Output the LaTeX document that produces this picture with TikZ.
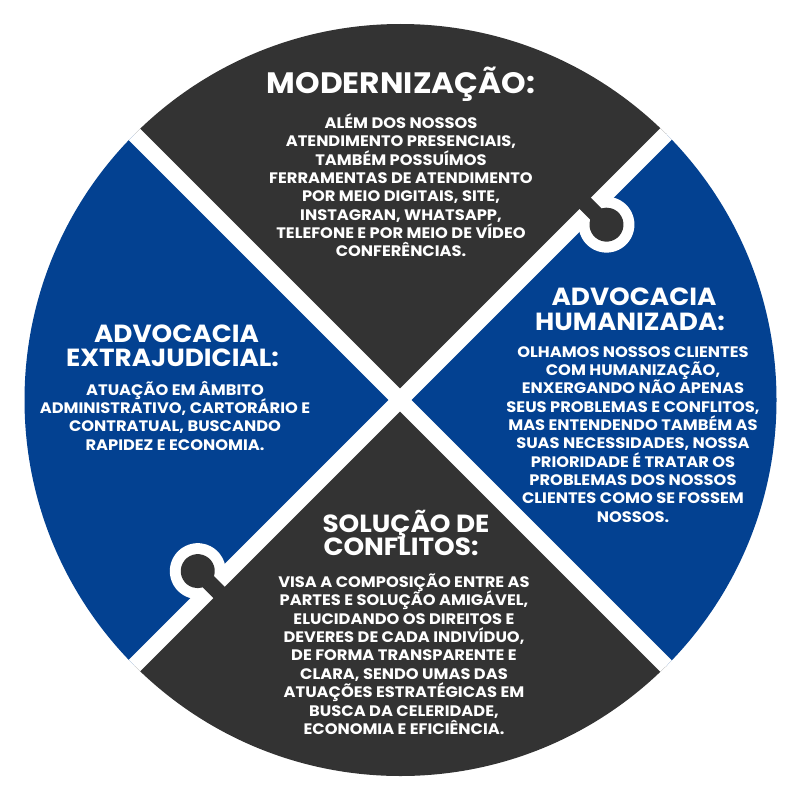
\documentclass[tikz,border=0pt]{standalone}
\usepackage{fontspec}
\setmainfont{Poppins}
\newfontfamily\titlefont{Poppins}[FakeStretch=1.06]
\newfontfamily\bodyfont{Poppins}[FakeStretch=1.07]
\definecolor{dk}{RGB}{51,51,51}
\definecolor{bl}{RGB}{3,65,145}
\tikzset{
  ttl/.style={text=white, font=\titlefont\bfseries\fontsize{24.8}{25}\selectfont, inner sep=0pt, anchor=base},
  ttlbig/.style={ttl, font=\titlefont\bfseries\fontsize{29.5}{30}\selectfont},
  bod/.style={text=white, font=\bodyfont\bfseries\fontsize{15.2}{18}\selectfont, inner sep=0pt, anchor=base},
  gap/.style={white, line width=16pt},
  knobline/.style={white, line width=22pt, line join=round},
}
\newcommand{\puzzleknob}[3]{%
  \begin{scope}[shift={(400,400)}, rotate=#1]
    \begin{scope}
      \clip (#2-70,0) rectangle (#2+70,90);
      \draw[knobline] (#2-8,-12) -- (#2-8,#3-15) arc[start angle=241.93, end angle=-61.93, radius=17] -- (#2+8,-12) -- cycle;
    \end{scope}
    \fill[dk] (#2-8,-12) -- (#2-8,#3-15) arc[start angle=241.93, end angle=-61.93, radius=17] -- (#2+8,-12) -- cycle;
  \end{scope}}
\begin{document}
\begin{tikzpicture}[x=1pt,y=-1pt]
\useasboundingbox (0,0) rectangle (800,800);
\fill[white] (0,0) rectangle (800,800);
\begin{scope}
  \clip (400.5,400) circle[radius=376];
  \fill[dk] (400,400) -- (0,0) -- (800,0) -- cycle;
  \fill[bl] (400,400) -- (800,0) -- (800,800) -- cycle;
  \fill[dk] (400,400) -- (800,800) -- (0,800) -- cycle;
  \fill[bl] (400,400) -- (0,800) -- (0,0) -- cycle;
  \draw[gap] (0,0) -- (800,800);
  \draw[gap] (800,0) -- (0,800);
  \puzzleknob{45}{270}{22}
  \puzzleknob{225}{264}{22}
\end{scope}
% top
\node[ttlbig] (t1) at (401,93) {MODERNIZAÇÃO:};
\foreach \t [count=\i] in {{ALÉM DOS NOSSOS},{ATENDIMENTO PRESENCIAIS,},{TAMBÉM POSSUÍMOS},{FERRAMENTAS DE ATENDIMENTO},{POR MEIO DIGITAIS, SITE,},{INSTAGRAN, WHATSAPP,},{TELEFONE E POR MEIO DE VÍDEO},{CONFERÊNCIAS.}}
  \node[bod] (tb\i) at (401,{128.6+18.33*(\i-1)}) {\t};
% right
\node[ttl] (r1) at (634,305) {ADVOCACIA};
\node[ttl] (r2) at (630,330) {HUMANIZADA:};
\foreach \t [count=\i] in {{OLHAMOS NOSSOS CLIENTES},{COM HUMANIZAÇÃO,},{ENXERGANDO NÃO APENAS},{SEUS PROBLEMAS E CONFLITOS,},{MAS ENTENDENDO TAMBÉM AS},{SUAS NECESSIDADES, NOSSA},{PRIORIDADE É TRATAR OS},{PROBLEMAS DOS NOSSOS},{CLIENTES COMO SE FOSSEM},{NOSSOS.}}
  \node[bod] (rb\i) at (633,{357.3+18.33*(\i-1)}) {\t};
% left
\node[ttl] (l1) at (176.5,342) {ADVOCACIA};
\node[ttl] (l2) at (172.5,366) {EXTRAJUDICIAL:};
\foreach \t [count=\i] in {{ATUAÇÃO EM ÂMBITO},{ADMINISTRATIVO, CARTORÁRIO E},{CONTRATUAL, BUSCANDO},{RAPIDEZ E ECONOMIA.}}
  \node[bod] (lb\i) at (175,{395.3+18.33*(\i-1)}) {\t};
% bottom
\node[ttl] (b1) at (406,532) {SOLUÇÃO DE};
\node[ttl] (b2) at (401,555) {CONFLITOS:};
\foreach \t [count=\i] in {{VISA A COMPOSIÇÃO ENTRE AS},{PARTES E SOLUÇÃO AMIGÁVEL,},{ELUCIDANDO OS DIREITOS E},{DEVERES DE CADA INDIVÍDUO,},{DE FORMA TRANSPARENTE E},{CLARA, SENDO UMAS DAS},{ATUAÇÕES ESTRATÉGICAS EM},{BUSCA DA CELERIDADE,},{ECONOMIA E EFICIÊNCIA.}}
  \node[bod] (bb\i) at (404,{587.3+18.4*(\i-1)}) {\t};
\end{tikzpicture}
\end{document}
